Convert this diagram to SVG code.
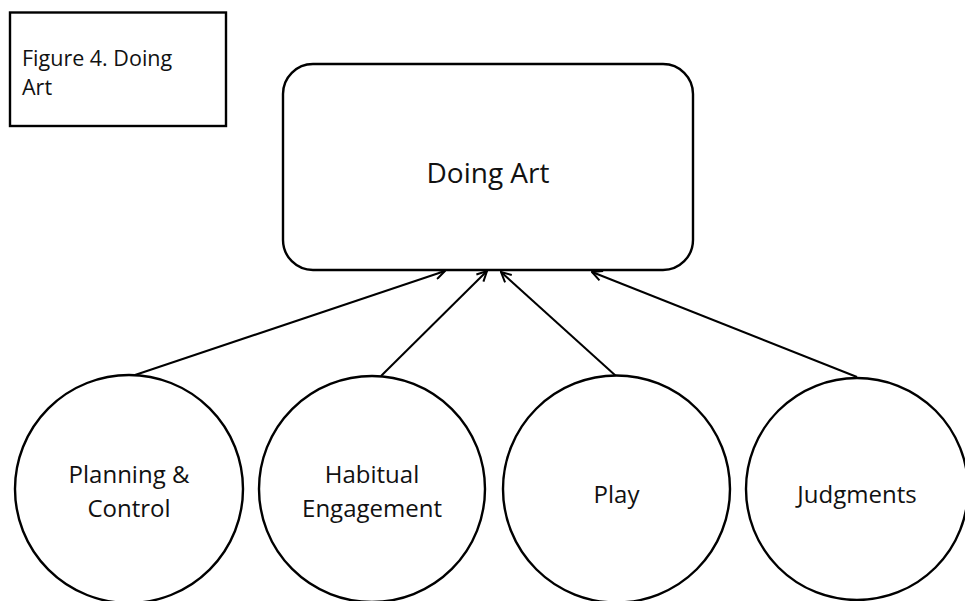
<svg xmlns="http://www.w3.org/2000/svg" width="965" height="601" viewBox="0 0 965 601">
  <defs>
    <style>
      .box { fill: #fff; stroke: #000; stroke-width: 2.4; }
      .lbl { font-family: "Open Sans", "Liberation Sans", sans-serif; fill: #111; }
      .conn { stroke: #000; stroke-width: 2; fill: none; marker-end: url(#arrow); }
    </style>
    <marker id="arrow" viewBox="0 0 12 12" refX="11" refY="6" markerWidth="12" markerHeight="12" markerUnits="userSpaceOnUse" orient="auto">
      <path d="M1,1 L11,6 L1,11" fill="none" stroke="#000" stroke-width="2"/>
    </marker>
  </defs>
  <rect width="965" height="601" fill="#fff"/>

  <g id="caption">
    <rect class="box" x="10" y="12.5" width="216" height="113.5"/>
    <text class="lbl" x="22" y="66" font-size="21.5">Figure 4. Doing</text>
    <text class="lbl" x="22" y="95" font-size="21.5">Art</text>
  </g>

  <g id="connectors">
    <line class="conn" x1="135" y1="375" x2="445" y2="271"/>
    <line class="conn" x1="381" y1="376" x2="487" y2="271"/>
    <line class="conn" x1="616" y1="376" x2="501" y2="272"/>
    <line class="conn" x1="857" y1="377" x2="592" y2="272"/>
  </g>

  <g id="doing-art">
    <rect class="box" x="283" y="64" width="410" height="206" rx="30" ry="30"/>
    <text class="lbl" x="488" y="183" font-size="28" text-anchor="middle">Doing Art</text>
  </g>

  <g id="planning-control">
    <circle class="box" cx="129" cy="489" r="114"/>
    <text class="lbl" x="129" y="483" font-size="24" text-anchor="middle">Planning &amp;</text>
    <text class="lbl" x="129" y="517" font-size="24" text-anchor="middle">Control</text>
  </g>

  <g id="habitual-engagement">
    <circle class="box" cx="372" cy="489" r="113"/>
    <text class="lbl" x="372" y="483" font-size="24" text-anchor="middle">Habitual</text>
    <text class="lbl" x="372" y="517" font-size="24" text-anchor="middle">Engagement</text>
  </g>

  <g id="play">
    <circle class="box" cx="616.5" cy="489" r="113.5"/>
    <text class="lbl" x="616.5" y="503" font-size="24" text-anchor="middle">Play</text>
  </g>

  <g id="judgments">
    <circle class="box" cx="857" cy="489" r="111"/>
    <text class="lbl" x="857" y="503" font-size="24" text-anchor="middle">Judgments</text>
  </g>
</svg>
